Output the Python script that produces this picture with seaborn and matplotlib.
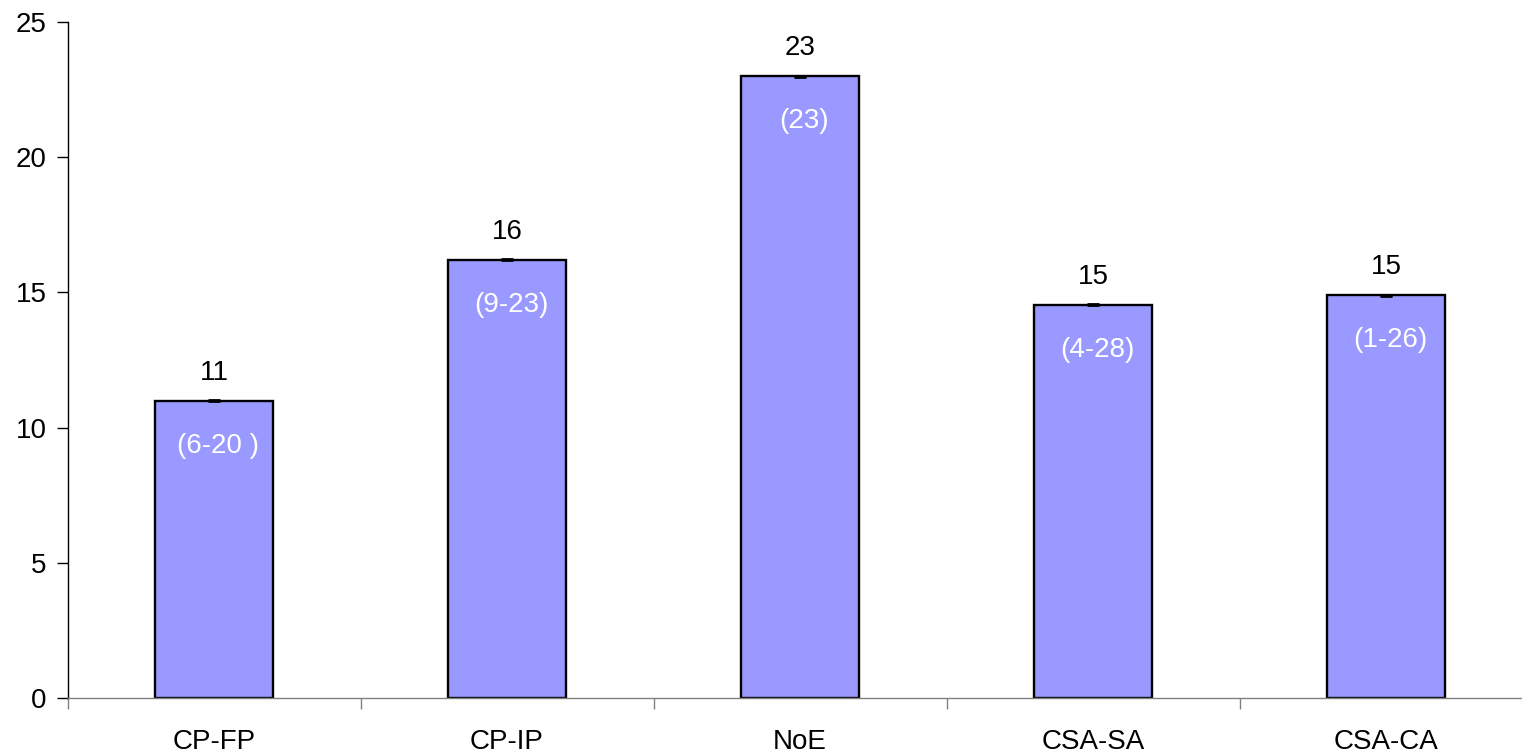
import numpy as np
import pandas as pd
import matplotlib.pyplot as plt
import seaborn as sns

categories = ["CP-FP", "CP-IP", "NoE", "CSA-SA", "CSA-CA"]
values = [11.0, 16.2, 23.0, 14.55, 14.9]
top_labels = ["11", "16", "23", "15", "15"]
range_labels = ["(6-20 )", "(9-23)", "(23)", "(4-28)", "(1-26)"]


def main():
    sns.set_style("white")
    plt.rcParams["font.family"] = ["Liberation Sans", "DejaVu Sans"]
    plt.rcParams["text.color"] = "black"
    plt.rcParams["xtick.labelcolor"] = "black"
    plt.rcParams["ytick.labelcolor"] = "black"

    df = pd.DataFrame({"group": categories, "value": values})

    fig = plt.figure(figsize=(15.22, 7.52), dpi=100)
    ax = fig.add_axes([67.5 / 1522, 54 / 752, 1465 / 1522, 676 / 752])

    sns.barplot(data=df, x="group", y="value", color="#9999FF", saturation=1,
                edgecolor="black", linewidth=1.7, width=0.4, errorbar=None, ax=ax)

    # tiny caps on top of bars as in the original
    x = np.arange(len(categories))
    ax.errorbar(x, values, yerr=0.02, fmt="none", ecolor="black", elinewidth=1.5,
                capsize=4, capthick=2, zorder=5)

    fs = 20
    for i, v in enumerate(values):
        ax.annotate(top_labels[i], (i, v), xytext=(0, 28), textcoords="offset pixels",
                    ha="center", va="center", fontsize=fs, color="black")
        ax.annotate(range_labels[i], (i, v), xytext=(4, -45), textcoords="offset pixels",
                    ha="center", va="center", fontsize=fs, color="white")

    ax.set_xlim(-0.5, len(categories) - 0.5)
    ax.set_ylim(0, 25)
    ax.set_yticks(np.arange(0, 26, 5))
    ax.set_xlabel("")
    ax.set_ylabel("")

    ax.set_xticks(np.arange(len(categories) + 1) - 0.5, minor=True)
    ax.tick_params(axis="x", which="major", length=0, pad=22, labelsize=fs, labelcolor="black")
    ax.tick_params(axis="x", which="minor", bottom=True, length=8, width=1,
                   color="#808080", direction="out")
    ax.tick_params(axis="y", length=8, width=1, color="black", direction="out", pad=7,
                   labelsize=fs, left=True, labelcolor="black")

    for s in ["top", "right"]:
        ax.spines[s].set_visible(False)
    ax.spines["left"].set_color("black")
    ax.spines["left"].set_linewidth(1)
    ax.spines["bottom"].set_color("#808080")
    ax.spines["bottom"].set_linewidth(1)

    fig.savefig("out.png", dpi=100)
    plt.close(fig)


if __name__ == "__main__":
    main()
